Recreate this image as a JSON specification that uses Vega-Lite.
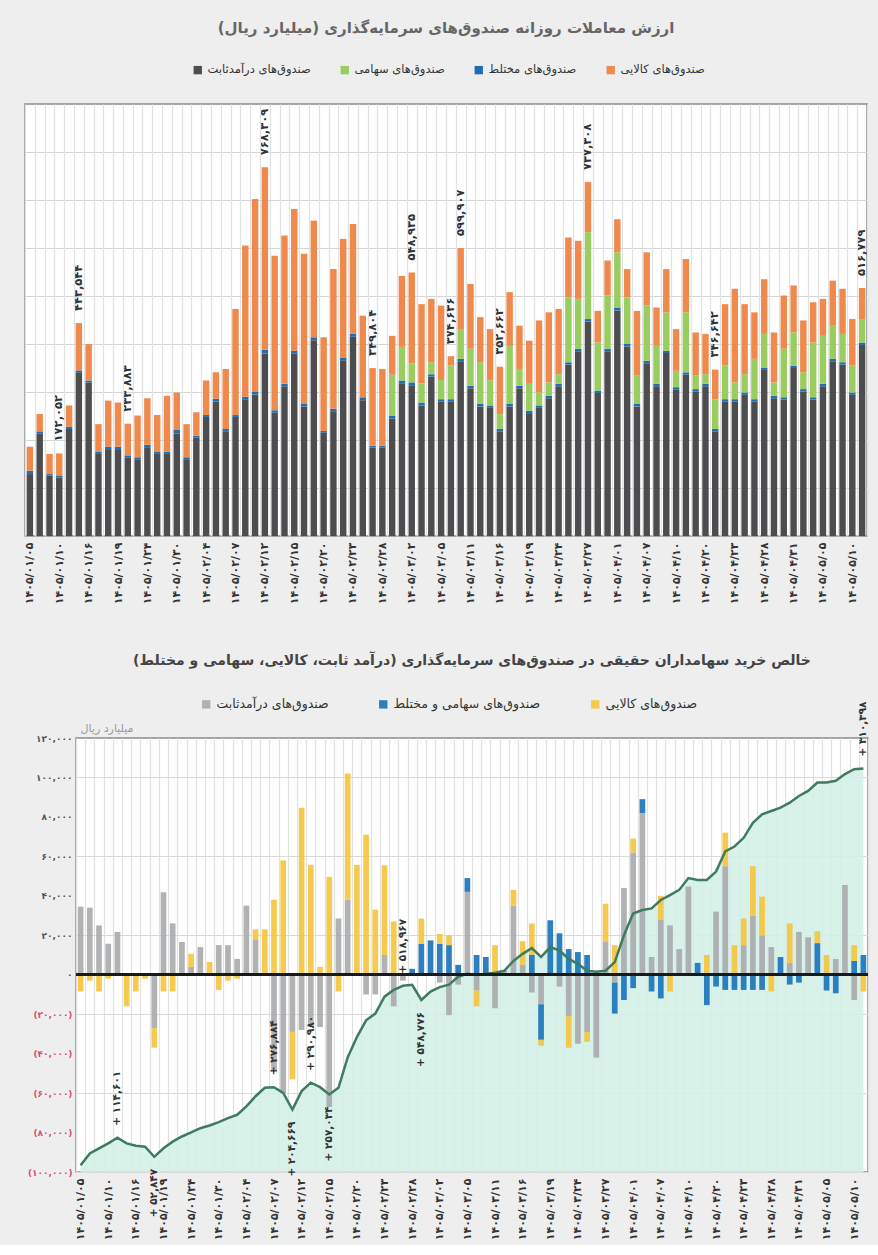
{
  "$schema": "https://vega.github.io/schema/vega-lite/v6.json",
  "background": "#eeeeee",
  "padding": {"left": 18, "right": 10, "top": 20, "bottom": 4},
  "params": [
    {"name": "shown", "value": ["۱۴۰۵/۰۱/۰۵","۱۴۰۵/۰۱/۱۰","۱۴۰۵/۰۱/۱۶","۱۴۰۵/۰۱/۱۹","۱۴۰۵/۰۱/۲۴","۱۴۰۵/۰۱/۳۰","۱۴۰۵/۰۲/۰۴","۱۴۰۵/۰۲/۰۷","۱۴۰۵/۰۲/۱۲","۱۴۰۵/۰۲/۱۵","۱۴۰۵/۰۲/۲۰","۱۴۰۵/۰۲/۲۳","۱۴۰۵/۰۲/۲۸","۱۴۰۵/۰۳/۰۲","۱۴۰۵/۰۳/۰۵","۱۴۰۵/۰۳/۱۱","۱۴۰۵/۰۳/۱۶","۱۴۰۵/۰۳/۱۹","۱۴۰۵/۰۳/۲۴","۱۴۰۵/۰۳/۲۷","۱۴۰۵/۰۴/۰۱","۱۴۰۵/۰۴/۰۷","۱۴۰۵/۰۴/۱۰","۱۴۰۵/۰۴/۲۰","۱۴۰۵/۰۴/۲۳","۱۴۰۵/۰۴/۲۸","۱۴۰۵/۰۴/۳۱","۱۴۰۵/۰۵/۰۵","۱۴۰۵/۰۵/۱۰"]}
  ],
  "data": {"values": [
    {"date":"۱۴۰۵/۰۱/۰۵","f1_fix":129000,"f2_mix":7000,"f3_stk":0,"f4_com":50000,"n1_fix":34500,"n2_mix":0,"n3_com":-8500,"cum":-96600},
    {"date":"۱۴۰۵/۰۱/۰۶","f1_fix":214000,"f2_mix":4000,"f3_stk":0,"f4_com":36000,"n1_fix":34000,"n2_mix":0,"n3_com":-3000,"cum":-90600},
    {"date":"۱۴۰۵/۰۱/۰۹","f1_fix":126000,"f2_mix":3000,"f3_stk":0,"f4_com":42000,"n1_fix":25000,"n2_mix":0,"n3_com":-8500,"cum":-88000},
    {"date":"۱۴۰۵/۰۱/۱۰","f1_fix":122000,"f2_mix":3000,"f3_stk":0,"f4_com":47052,"n1_fix":15700,"n2_mix":0,"n3_com":-2000,"cum":-85500,"tl":1},
    {"date":"۱۴۰۵/۰۱/۱۱","f1_fix":223000,"f2_mix":5000,"f3_stk":0,"f4_com":44000,"n1_fix":21700,"n2_mix":0,"n3_com":0,"cum":-82600,"bl":"+ ۱۱۴,۶۰۱","bp":"a"},
    {"date":"۱۴۰۵/۰۱/۱۵","f1_fix":341000,"f2_mix":4000,"f3_stk":0,"f4_com":98544,"n1_fix":0,"n2_mix":0,"n3_com":-16000,"cum":-85500,"tl":1},
    {"date":"۱۴۰۵/۰۱/۱۶","f1_fix":320000,"f2_mix":4000,"f3_stk":0,"f4_com":76000,"n1_fix":0,"n2_mix":0,"n3_com":-8500,"cum":-86700},
    {"date":"۱۴۰۵/۰۱/۱۷","f1_fix":171000,"f2_mix":4000,"f3_stk":0,"f4_com":58000,"n1_fix":0,"n2_mix":0,"n3_com":-2000,"cum":-87200},
    {"date":"۱۴۰۵/۰۱/۱۸","f1_fix":181000,"f2_mix":5000,"f3_stk":0,"f4_com":96000,"n1_fix":-27000,"n2_mix":0,"n3_com":-10000,"cum":-92300,"bl":"+ ۵۲,۸۴۷","bp":"b"},
    {"date":"۱۴۰۵/۰۱/۱۹","f1_fix":181000,"f2_mix":5000,"f3_stk":0,"f4_com":92000,"n1_fix":41800,"n2_mix":0,"n3_com":-8500,"cum":-88000},
    {"date":"۱۴۰۵/۰۱/۲۲","f1_fix":164000,"f2_mix":4000,"f3_stk":0,"f4_com":65883,"n1_fix":26000,"n2_mix":0,"n3_com":-8500,"cum":-84600,"tl":1},
    {"date":"۱۴۰۵/۰۱/۲۳","f1_fix":160000,"f2_mix":4000,"f3_stk":0,"f4_com":87000,"n1_fix":16600,"n2_mix":0,"n3_com":0,"cum":-82000},
    {"date":"۱۴۰۵/۰۱/۲۴","f1_fix":185000,"f2_mix":5000,"f3_stk":0,"f4_com":97000,"n1_fix":4000,"n2_mix":0,"n3_com":6600,"cum":-79900},
    {"date":"۱۴۰۵/۰۱/۲۵","f1_fix":171000,"f2_mix":4000,"f3_stk":0,"f4_com":77000,"n1_fix":14000,"n2_mix":0,"n3_com":0,"cum":-77800},
    {"date":"۱۴۰۵/۰۱/۲۶","f1_fix":171000,"f2_mix":5000,"f3_stk":0,"f4_com":116000,"n1_fix":0,"n2_mix":0,"n3_com":6400,"cum":-76400},
    {"date":"۱۴۰۵/۰۱/۳۰","f1_fix":213000,"f2_mix":8000,"f3_stk":0,"f4_com":78000,"n1_fix":15000,"n2_mix":0,"n3_com":-7700,"cum":-74700},
    {"date":"۱۴۰۵/۰۱/۳۱","f1_fix":160000,"f2_mix":4000,"f3_stk":0,"f4_com":69000,"n1_fix":15000,"n2_mix":0,"n3_com":-3000,"cum":-72700},
    {"date":"۱۴۰۵/۰۲/۰۱","f1_fix":205000,"f2_mix":4000,"f3_stk":0,"f4_com":49000,"n1_fix":8000,"n2_mix":0,"n3_com":-2000,"cum":-71000},
    {"date":"۱۴۰۵/۰۲/۰۴","f1_fix":248000,"f2_mix":4000,"f3_stk":0,"f4_com":72000,"n1_fix":35000,"n2_mix":0,"n3_com":0,"cum":-66700},
    {"date":"۱۴۰۵/۰۲/۰۵","f1_fix":280000,"f2_mix":6000,"f3_stk":0,"f4_com":55000,"n1_fix":18000,"n2_mix":0,"n3_com":5000,"cum":-61600},
    {"date":"۱۴۰۵/۰۲/۰۶","f1_fix":218000,"f2_mix":5000,"f3_stk":0,"f4_com":125000,"n1_fix":0,"n2_mix":0,"n3_com":23000,"cum":-57300},
    {"date":"۱۴۰۵/۰۲/۰۷","f1_fix":248000,"f2_mix":4000,"f3_stk":0,"f4_com":221000,"n1_fix":-48700,"n2_mix":0,"n3_com":38000,"cum":-57000,"bl":"+ ۲۷۶,۸۸۴","bp":"a"},
    {"date":"۱۴۰۵/۰۲/۰۸","f1_fix":285000,"f2_mix":5000,"f3_stk":0,"f4_com":315000,"n1_fix":-60000,"n2_mix":0,"n3_com":58000,"cum":-59900},
    {"date":"۱۴۰۵/۰۲/۱۱","f1_fix":295000,"f2_mix":5000,"f3_stk":0,"f4_com":402000,"n1_fix":-29000,"n2_mix":0,"n3_com":-24000,"cum":-68400,"bl":"+ ۲۰۴,۶۶۹","bp":"b"},
    {"date":"۱۴۰۵/۰۲/۱۲","f1_fix":380000,"f2_mix":8000,"f3_stk":0,"f4_com":380309,"n1_fix":-28000,"n2_mix":0,"n3_com":84600,"cum":-59000,"tl":1},
    {"date":"۱۴۰۵/۰۲/۱۳","f1_fix":257000,"f2_mix":5000,"f3_stk":0,"f4_com":322000,"n1_fix":-26000,"n2_mix":0,"n3_com":55700,"cum":-54700,"bl":"+ ۲۹۰,۹۸۰","bp":"a"},
    {"date":"۱۴۰۵/۰۲/۱۴","f1_fix":312000,"f2_mix":5000,"f3_stk":0,"f4_com":309000,"n1_fix":-26500,"n2_mix":0,"n3_com":4000,"cum":-57000},
    {"date":"۱۴۰۵/۰۲/۱۵","f1_fix":380000,"f2_mix":6000,"f3_stk":0,"f4_com":295000,"n1_fix":-67000,"n2_mix":0,"n3_com":49600,"cum":-60700,"bl":"+ ۲۵۷,۰۳۴","bp":"b"},
    {"date":"۱۴۰۵/۰۲/۱۸","f1_fix":270000,"f2_mix":5000,"f3_stk":0,"f4_com":313000,"n1_fix":28500,"n2_mix":0,"n3_com":-8500,"cum":-57300},
    {"date":"۱۴۰۵/۰۲/۱۹","f1_fix":408000,"f2_mix":6000,"f3_stk":0,"f4_com":243000,"n1_fix":38000,"n2_mix":0,"n3_com":64000,"cum":-41900},
    {"date":"۱۴۰۵/۰۲/۲۰","f1_fix":215000,"f2_mix":4000,"f3_stk":0,"f4_com":195000,"n1_fix":0,"n2_mix":0,"n3_com":55700,"cum":-31600},
    {"date":"۱۴۰۵/۰۲/۲۱","f1_fix":260000,"f2_mix":5000,"f3_stk":0,"f4_com":291000,"n1_fix":-10000,"n2_mix":0,"n3_com":71000,"cum":-23100},
    {"date":"۱۴۰۵/۰۲/۲۲","f1_fix":366000,"f2_mix":6000,"f3_stk":0,"f4_com":247000,"n1_fix":-10000,"n2_mix":0,"n3_com":33000,"cum":-19700},
    {"date":"۱۴۰۵/۰۲/۲۳","f1_fix":415000,"f2_mix":6000,"f3_stk":0,"f4_com":229000,"n1_fix":10000,"n2_mix":0,"n3_com":45500,"cum":-11100},
    {"date":"۱۴۰۵/۰۲/۲۵","f1_fix":283000,"f2_mix":6000,"f3_stk":0,"f4_com":170000,"n1_fix":-16000,"n2_mix":0,"n3_com":27000,"cum":-7700},
    {"date":"۱۴۰۵/۰۲/۲۶","f1_fix":184000,"f2_mix":4000,"f3_stk":0,"f4_com":161804,"n1_fix":-3000,"n2_mix":0,"n3_com":0,"cum":-5600,"tl":1,"bl":"+ ۵۱۸,۹۶۷","bp":"a"},
    {"date":"۱۴۰۵/۰۲/۲۸","f1_fix":184000,"f2_mix":4000,"f3_stk":0,"f4_com":160000,"n1_fix":0,"n2_mix":3000,"n3_com":0,"cum":-5100},
    {"date":"۱۴۰۵/۰۲/۲۹","f1_fix":245000,"f2_mix":6000,"f3_stk":85000,"f4_com":81000,"n1_fix":0,"n2_mix":15700,"n3_com":12800,"cum":-12800,"bl":"+ ۵۴۸,۷۷۶","bp":"b"},
    {"date":"۱۴۰۵/۰۳/۰۱","f1_fix":318000,"f2_mix":6000,"f3_stk":70000,"f4_com":148000,"n1_fix":0,"n2_mix":17400,"n3_com":0,"cum":-8500},
    {"date":"۱۴۰۵/۰۳/۰۲","f1_fix":314000,"f2_mix":6000,"f3_stk":40000,"f4_com":188935,"n1_fix":-4000,"n2_mix":15700,"n3_com":5000,"cum":-6300,"tl":1},
    {"date":"۱۴۰۵/۰۳/۰۳","f1_fix":272000,"f2_mix":6000,"f3_stk":40000,"f4_com":165000,"n1_fix":-20500,"n2_mix":15000,"n3_com":5000,"cum":-5000},
    {"date":"۱۴۰۵/۰۳/۰۴","f1_fix":332000,"f2_mix":5000,"f3_stk":25000,"f4_com":132000,"n1_fix":-5000,"n2_mix":5000,"n3_com":0,"cum":-1000},
    {"date":"۱۴۰۵/۰۳/۰۵","f1_fix":280000,"f2_mix":5000,"f3_stk":40000,"f4_com":155000,"n1_fix":42000,"n2_mix":7000,"n3_com":0,"cum":500},
    {"date":"۱۴۰۵/۰۳/۰۸","f1_fix":280000,"f2_mix":5000,"f3_stk":70000,"f4_com":19636,"n1_fix":-8000,"n2_mix":10000,"n3_com":-8000,"cum":0,"tl":1},
    {"date":"۱۴۰۵/۰۳/۰۹","f1_fix":364000,"f2_mix":5000,"f3_stk":62000,"f4_com":168907,"n1_fix":0,"n2_mix":9000,"n3_com":0,"cum":500,"tl":1},
    {"date":"۱۴۰۵/۰۳/۱۱","f1_fix":308000,"f2_mix":5000,"f3_stk":77000,"f4_com":135000,"n1_fix":-17000,"n2_mix":0,"n3_com":15000,"cum":1000},
    {"date":"۱۴۰۵/۰۳/۱۲","f1_fix":270000,"f2_mix":5000,"f3_stk":87000,"f4_com":94000,"n1_fix":2000,"n2_mix":0,"n3_com":0,"cum":2000},
    {"date":"۱۴۰۵/۰۳/۱۵","f1_fix":267000,"f2_mix":5000,"f3_stk":52000,"f4_com":107000,"n1_fix":35000,"n2_mix":0,"n3_com":8000,"cum":7000},
    {"date":"۱۴۰۵/۰۳/۱۶","f1_fix":218000,"f2_mix":5000,"f3_stk":31000,"f4_com":98662,"n1_fix":5000,"n2_mix":0,"n3_com":12000,"cum":10600,"tl":1},
    {"date":"۱۴۰۵/۰۳/۱۷","f1_fix":270000,"f2_mix":5000,"f3_stk":121000,"f4_com":112000,"n1_fix":-9000,"n2_mix":10000,"n3_com":16000,"cum":13500},
    {"date":"۱۴۰۵/۰۳/۱۸","f1_fix":308000,"f2_mix":5000,"f3_stk":35000,"f4_com":90000,"n1_fix":-15000,"n2_mix":-18000,"n3_com":-3000,"cum":9000},
    {"date":"۱۴۰۵/۰۳/۱۹","f1_fix":256000,"f2_mix":5000,"f3_stk":56000,"f4_com":90000,"n1_fix":0,"n2_mix":27600,"n3_com":0,"cum":14000},
    {"date":"۱۴۰۵/۰۳/۲۲","f1_fix":267000,"f2_mix":5000,"f3_stk":27000,"f4_com":150000,"n1_fix":-6000,"n2_mix":21000,"n3_com":0,"cum":12300},
    {"date":"۱۴۰۵/۰۳/۲۳","f1_fix":287000,"f2_mix":5000,"f3_stk":28000,"f4_com":146000,"n1_fix":-21000,"n2_mix":13000,"n3_com":-16000,"cum":8000},
    {"date":"۱۴۰۵/۰۳/۲۴","f1_fix":312000,"f2_mix":5000,"f3_stk":20000,"f4_com":136000,"n1_fix":-35000,"n2_mix":11500,"n3_com":0,"cum":5500},
    {"date":"۱۴۰۵/۰۳/۲۵","f1_fix":357000,"f2_mix":5000,"f3_stk":135000,"f4_com":125000,"n1_fix":-29000,"n2_mix":10000,"n3_com":-5000,"cum":2000},
    {"date":"۱۴۰۵/۰۳/۲۶","f1_fix":385000,"f2_mix":5000,"f3_stk":104000,"f4_com":121000,"n1_fix":-42000,"n2_mix":0,"n3_com":0,"cum":1500},
    {"date":"۱۴۰۵/۰۳/۲۷","f1_fix":447000,"f2_mix":5000,"f3_stk":181000,"f4_com":104308,"n1_fix":17000,"n2_mix":0,"n3_com":19000,"cum":2000,"tl":1},
    {"date":"۱۴۰۵/۰۳/۲۹","f1_fix":298000,"f2_mix":5000,"f3_stk":100000,"f4_com":66000,"n1_fix":-4000,"n2_mix":-15700,"n3_com":15000,"cum":6400},
    {"date":"۱۴۰۵/۰۳/۳۰","f1_fix":385000,"f2_mix":5000,"f3_stk":111000,"f4_com":73000,"n1_fix":44000,"n2_mix":-12800,"n3_com":0,"cum":20000},
    {"date":"۱۴۰۵/۰۴/۰۱","f1_fix":470000,"f2_mix":6000,"f3_stk":115000,"f4_com":69000,"n1_fix":62000,"n2_mix":-6800,"n3_com":7000,"cum":31000},
    {"date":"۱۴۰۵/۰۴/۰۲","f1_fix":395000,"f2_mix":5000,"f3_stk":97000,"f4_com":59000,"n1_fix":82000,"n2_mix":7000,"n3_com":0,"cum":32800},
    {"date":"۱۴۰۵/۰۴/۰۶","f1_fix":270000,"f2_mix":5000,"f3_stk":59000,"f4_com":135000,"n1_fix":9000,"n2_mix":-8500,"n3_com":0,"cum":33600},
    {"date":"۱۴۰۵/۰۴/۰۷","f1_fix":360000,"f2_mix":5000,"f3_stk":115000,"f4_com":111000,"n1_fix":28000,"n2_mix":-12000,"n3_com":12000,"cum":37900},
    {"date":"۱۴۰۵/۰۴/۰۸","f1_fix":312000,"f2_mix":5000,"f3_stk":79000,"f4_com":80000,"n1_fix":25000,"n2_mix":0,"n3_com":-8500,"cum":40400},
    {"date":"۱۴۰۵/۰۴/۰۹","f1_fix":381000,"f2_mix":5000,"f3_stk":80000,"f4_com":90000,"n1_fix":13000,"n2_mix":0,"n3_com":0,"cum":43000},
    {"date":"۱۴۰۵/۰۴/۱۰","f1_fix":305000,"f2_mix":5000,"f3_stk":34000,"f4_com":87000,"n1_fix":44700,"n2_mix":0,"n3_com":0,"cum":49000},
    {"date":"۱۴۰۵/۰۴/۱۳","f1_fix":336000,"f2_mix":5000,"f3_stk":125000,"f4_com":111000,"n1_fix":0,"n2_mix":6000,"n3_com":0,"cum":48000},
    {"date":"۱۴۰۵/۰۴/۱۴","f1_fix":301000,"f2_mix":5000,"f3_stk":28000,"f4_com":90000,"n1_fix":0,"n2_mix":-15400,"n3_com":10000,"cum":48000},
    {"date":"۱۴۰۵/۰۴/۲۰","f1_fix":312000,"f2_mix":5000,"f3_stk":20000,"f4_com":84000,"n1_fix":32000,"n2_mix":-6000,"n3_com":0,"cum":52300},
    {"date":"۱۴۰۵/۰۴/۲۱","f1_fix":218000,"f2_mix":5000,"f3_stk":62000,"f4_com":61642,"n1_fix":55000,"n2_mix":-7700,"n3_com":17000,"cum":62500,"tl":1},
    {"date":"۱۴۰۵/۰۴/۲۲","f1_fix":280000,"f2_mix":5000,"f3_stk":70000,"f4_com":128000,"n1_fix":0,"n2_mix":-7700,"n3_com":15000,"cum":65000},
    {"date":"۱۴۰۵/۰۴/۲۳","f1_fix":280000,"f2_mix":5000,"f3_stk":35000,"f4_com":195000,"n1_fix":15000,"n2_mix":-7700,"n3_com":13500,"cum":69400},
    {"date":"۱۴۰۵/۰۴/۲۴","f1_fix":294000,"f2_mix":5000,"f3_stk":38000,"f4_com":146000,"n1_fix":30000,"n2_mix":-7700,"n3_com":25000,"cum":77000},
    {"date":"۱۴۰۵/۰۴/۲۷","f1_fix":280000,"f2_mix":5000,"f3_stk":84000,"f4_com":97000,"n1_fix":20000,"n2_mix":-7700,"n3_com":19600,"cum":81300},
    {"date":"۱۴۰۵/۰۴/۲۸","f1_fix":346000,"f2_mix":5000,"f3_stk":70000,"f4_com":114000,"n1_fix":14000,"n2_mix":0,"n3_com":-8500,"cum":83000},
    {"date":"۱۴۰۵/۰۴/۲۹","f1_fix":287000,"f2_mix":5000,"f3_stk":28000,"f4_com":104000,"n1_fix":0,"n2_mix":9000,"n3_com":0,"cum":84700},
    {"date":"۱۴۰۵/۰۴/۳۰","f1_fix":284000,"f2_mix":5000,"f3_stk":101000,"f4_com":111000,"n1_fix":6000,"n2_mix":-5000,"n3_com":20000,"cum":87200},
    {"date":"۱۴۰۵/۰۴/۳۱","f1_fix":350000,"f2_mix":5000,"f3_stk":69000,"f4_com":98000,"n1_fix":21700,"n2_mix":-4000,"n3_com":0,"cum":90600},
    {"date":"۱۴۰۵/۰۵/۰۳","f1_fix":301000,"f2_mix":5000,"f3_stk":35000,"f4_com":108000,"n1_fix":19000,"n2_mix":0,"n3_com":0,"cum":93200},
    {"date":"۱۴۰۵/۰۵/۰۴","f1_fix":284000,"f2_mix":5000,"f3_stk":114000,"f4_com":84000,"n1_fix":0,"n2_mix":16000,"n3_com":6000,"cum":97400},
    {"date":"۱۴۰۵/۰۵/۰۵","f1_fix":312000,"f2_mix":5000,"f3_stk":100000,"f4_com":77000,"n1_fix":0,"n2_mix":-8000,"n3_com":10000,"cum":97400},
    {"date":"۱۴۰۵/۰۵/۰۶","f1_fix":364000,"f2_mix":5000,"f3_stk":69000,"f4_com":94000,"n1_fix":8000,"n2_mix":-9400,"n3_com":0,"cum":98300},
    {"date":"۱۴۰۵/۰۵/۰۷","f1_fix":357000,"f2_mix":5000,"f3_stk":59000,"f4_com":94000,"n1_fix":45500,"n2_mix":0,"n3_com":0,"cum":101700},
    {"date":"۱۴۰۵/۰۵/۱۰","f1_fix":294000,"f2_mix":5000,"f3_stk":56000,"f4_com":97000,"n1_fix":-12800,"n2_mix":7000,"n3_com":8000,"cum":104200},
    {"date":"۱۴۰۵/۰۵/۱۱","f1_fix":398000,"f2_mix":5000,"f3_stk":49000,"f4_com":64779,"n1_fix":0,"n2_mix":10000,"n3_com":-8500,"cum":104600,"tl":1,"bl":"+ ۳۱۰,۳۹۸","bp":"a"}
  ]},
  "spacing": 48,
  "resolve": {"scale": {"color": "independent"}, "legend": {"color": "independent"}},
  "vconcat": [
    {
      "width": 842,
      "height": 432,
      "title": {"text": "\u200fارزش معاملات روزانه صندوق‌های سرمایه‌گذاری (میلیارد ریال)\u200f", "fontSize": 15, "color": "#666666", "offset": 28},
      "transform": [{"fold": ["f1_fix", "f2_mix", "f3_stk", "f4_com"], "as": ["k", "v"]}],
      "layer": [
        {
          "mark": {"type": "bar", "width": {"band": 0.66}},
          "encoding": {
            "x": {"field": "date", "type": "ordinal", "sort": null,
              "scale": {"paddingInner": 0, "paddingOuter": 0},
              "axis": {"title": null, "labelAngle": -90, "labelOverlap": false, "labelExpr": "indexof(shown, datum.value) >= 0 ? datum.label : ''", "tickBand": "extent", "grid": true, "gridColor": "#e2e2e2", "gridWidth": 1.2, "zindex": 1, "labelFontSize": 11, "labelFontWeight": "bold", "labelColor": "#333333", "labelPadding": 6}},
            "y": {"field": "v", "type": "quantitative", "scale": {"domain": [0, 900000], "nice": false},
              "axis": {"title": null, "labels": false, "minExtent": 0, "maxExtent": 0, "values": [100000, 200000, 300000, 400000, 500000, 600000, 700000, 800000], "gridColor": "#d4d4d4"}},
            "color": {"field": "k", "type": "nominal",
              "scale": {"domain": ["f1_fix", "f3_stk", "f2_mix", "f4_com"], "range": ["#4d4d4f", "#9acd5f", "#1f6db3", "#ef8a4c"]},
              "legend": {"title": null, "orient": "none", "direction": "horizontal", "legendX": 167, "legendY": -40, "labelFontSize": 11.5, "columnPadding": 28, "labelExpr": "datum.value == 'f4_com' ? 'صندوق‌های کالایی' : datum.value == 'f2_mix' ? 'صندوق‌های مختلط' : datum.value == 'f3_stk' ? 'صندوق‌های سهامی' : 'صندوق‌های درآمدثابت'"}},
            "order": {"field": "k", "sort": "ascending"}
          }
        },
        {
          "transform": [{"filter": "datum.tl == 1"}],
          "mark": {"type": "text", "angle": 270, "align": "left", "baseline": "middle", "dx": 12, "fontSize": 11.5, "fontWeight": "bold", "color": "#333333"},
          "encoding": {
            "x": {"field": "date", "type": "ordinal", "sort": null},
            "y": {"aggregate": "sum", "field": "v", "type": "quantitative", "scale": {"domain": [0, 900000], "nice": false}},
            "text": {"aggregate": "sum", "field": "v", "type": "quantitative", "format": ","}
          }
        }
      ]
    },
    {
      "spacing": 0,
      "resolve": {"scale": {"color": "independent"}, "legend": {"color": "independent"}},
      "hconcat": [
        {
          "width": 1,
          "height": 1,
          "view": {"stroke": null, "fill": null},
          "mark": {"type": "point", "opacity": 0, "size": 0, "strokeWidth": 0},
          "encoding": {}
        },
        {
          "width": 792,
          "height": 434,
          "title": {"text": "\u200fخالص خرید سهامداران حقیقی در صندوق‌های سرمایه‌گذاری (درآمد ثابت، کالایی، سهامی و مختلط)\u200f", "fontSize": 14, "color": "#444444", "offset": 30},
          "resolve": {"axis": {"y": "independent"}},
          "layer": [
            {
              "mark": {"type": "area", "color": "#d3efe6", "opacity": 0.88},
              "encoding": {
                "x": {"field": "date", "type": "ordinal", "sort": null,
                  "scale": {"paddingInner": 0, "paddingOuter": 0},
                  "axis": {"title": null, "labelAngle": -90, "labelOverlap": false, "labelExpr": "indexof(shown, datum.value) >= 0 ? datum.label : ''", "tickBand": "extent", "grid": true, "gridColor": "#e2e2e2", "gridWidth": 1.2, "labelFontSize": 11, "labelFontWeight": "bold", "labelColor": "#333333", "labelPadding": 6}},
                "y": {"field": "cum", "type": "quantitative", "scale": {"domain": [-100000, 120000], "nice": false},
                  "axis": {"orient": "left", "values": [-100000, -60000, -20000, 20000, 60000, 100000],
                    "labelOverlap": false, "format": "(,.0f",
                    "labelColor": {"condition": {"test": "datum.value < 0", "value": "#d94f72"}, "value": "#555555"},
                    "labelFontSize": 9, "labelFontWeight": "bold", "labelPadding": 4, "gridColor": "#dadada",
                    "title": "میلیارد ریال", "titleAngle": 0, "titleAnchor": "end", "titleAlign": "left", "titleBaseline": "bottom",
                    "titleX": 4, "titleY": -5, "titleColor": "#9a9a9a", "titleFontWeight": "normal", "titleFontSize": 11}},
                "y2": {"datum": -100000}
              }
            },
            {
              "transform": [{"fold": ["n1_fix", "n2_mix", "n3_com"], "as": ["k", "v"]}],
              "mark": {"type": "bar", "width": {"band": 0.62}, "opacity": 0.92},
              "encoding": {
                "x": {"field": "date", "type": "ordinal", "sort": null},
                "y": {"field": "v", "type": "quantitative", "scale": {"domain": [-100000, 120000], "nice": false},
                  "axis": {"orient": "left", "values": [-80000, -40000, 0, 40000, 80000, 120000],
                    "labelOverlap": false, "format": "(,.0f", "title": null,
                    "labelColor": {"condition": {"test": "datum.value < 0", "value": "#d94f72"}, "value": "#555555"},
                    "labelFontSize": 9, "labelFontWeight": "bold", "labelPadding": 4, "gridColor": "#dadada"}},
                "color": {"field": "k", "type": "nominal",
                  "scale": {"domain": ["n1_fix", "n2_mix", "n3_com"], "range": ["#a9abae", "#1c74bb", "#f5c440"]},
                  "legend": {"title": null, "orient": "none", "direction": "horizontal", "legendX": 124, "legendY": -40, "labelFontSize": 12.5, "columnPadding": 48, "labelExpr": "datum.value == 'n1_fix' ? 'صندوق‌های درآمدثابت' : datum.value == 'n2_mix' ? 'صندوق‌های سهامی و مختلط' : 'صندوق‌های کالایی'"}},
                "order": {"field": "k", "sort": "ascending"}
              }
            },
            {
              "mark": {"type": "line", "color": "#3e7b5f", "strokeWidth": 2.5},
              "encoding": {
                "x": {"field": "date", "type": "ordinal", "sort": null},
                "y": {"field": "cum", "type": "quantitative", "scale": {"domain": [-100000, 120000], "nice": false}, "axis": null}
              }
            },
            {
              "mark": {"type": "rule", "color": "#1a1a1a", "strokeWidth": 2},
              "encoding": {"y": {"datum": 0, "axis": null}}
            },
            {
              "transform": [{"filter": "datum.bp == 'a'"}],
              "mark": {"type": "text", "angle": 270, "align": "left", "baseline": "middle", "dx": 12, "fontSize": 10.5, "fontWeight": "bold", "color": "#333333"},
              "encoding": {
                "x": {"field": "date", "type": "ordinal", "sort": null},
                "y": {"field": "cum", "type": "quantitative", "scale": {"domain": [-100000, 120000], "nice": false}, "axis": null},
                "text": {"field": "bl"}
              }
            },
            {
              "transform": [{"filter": "datum.bp == 'b'"}],
              "mark": {"type": "text", "angle": 270, "align": "right", "baseline": "middle", "dx": -12, "fontSize": 10.5, "fontWeight": "bold", "color": "#333333"},
              "encoding": {
                "x": {"field": "date", "type": "ordinal", "sort": null},
                "y": {"field": "cum", "type": "quantitative", "scale": {"domain": [-100000, 120000], "nice": false}, "axis": null},
                "text": {"field": "bl"}
              }
            }
          ]
        }
      ]
    }
  ],
  "config": {
    "font": "DejaVu Sans",
    "view": {"fill": "#ffffff", "stroke": "#8c8c8c", "strokeWidth": 1.5},
    "concat": {"spacing": 0},
    "locale": {"number": {"decimal": ".", "thousands": ",", "grouping": [3], "currency": ["", ""], "numerals": ["۰", "۱", "۲", "۳", "۴", "۵", "۶", "۷", "۸", "۹"]}},
    "axis": {"domain": false, "ticks": false, "labelOverlap": false},
    "axisY": {"labelOverlap": false},
    "legend": {"symbolType": "square", "symbolSize": 70, "labelColor": "#333333"},
    "title": {"fontWeight": "bold", "anchor": "middle"}
  }
}
